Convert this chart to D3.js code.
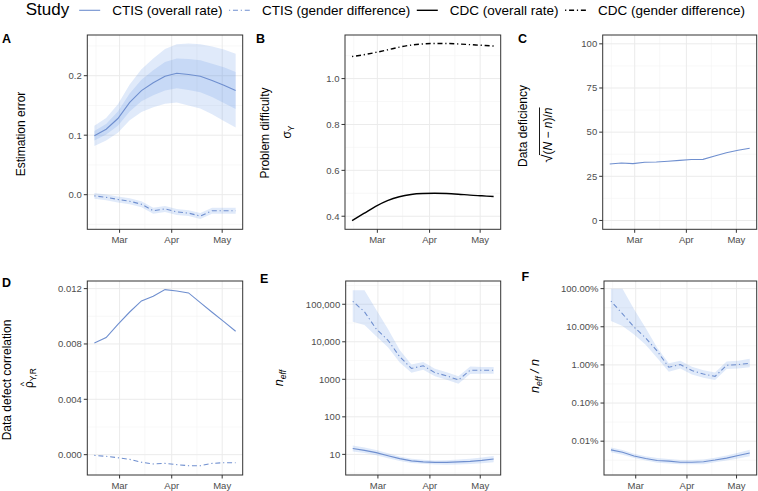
<!DOCTYPE html>
<html><head><meta charset="utf-8">
<script src="https://cdn.jsdelivr.net/npm/d3@7"></script>
<style>
body{margin:0;background:#fff}
svg{display:block}
text{font-family:"Liberation Sans",Arial,Helvetica,sans-serif}
</style>
</head><body>
<svg id="c" width="758" height="491"></svg>
<script>
// ---------------- DATA ----------------
const weeks = ["2021-02-14","2021-02-21","2021-02-28","2021-03-07","2021-03-14","2021-03-21","2021-03-28","2021-04-04","2021-04-11","2021-04-18","2021-04-25","2021-05-02","2021-05-09"];
const monthTicks = ["2021-03-01","2021-04-01","2021-05-01"];
const monthLabels = ["Mar","Apr","May"];
const monthMinor = ["2021-02-15","2021-03-16","2021-04-16"];

const legendLabels = ["CTIS (overall rate)","CTIS (gender difference)","CDC (overall rate)","CDC (gender difference)"];

// A: estimation error
const errOverall      = [0.099,0.110,0.128,0.155,0.175,0.188,0.199,0.204,0.202,0.199,0.192,0.184,0.175];
const errOverallOuter = [0.017,0.019,0.024,0.030,0.036,0.041,0.046,0.049,0.052,0.054,0.057,0.060,0.062];
const errOverallInner = [0.008,0.009,0.012,0.015,0.018,0.021,0.024,0.025,0.026,0.027,0.028,0.030,0.031];
const errGender       = [-0.002,-0.0045,-0.008,-0.011,-0.016,-0.027,-0.024,-0.029,-0.031,-0.036,-0.027,-0.027,-0.027];
const errGenderHalf   = [0.005,0.005,0.005,0.005,0.005,0.005,0.005,0.005,0.005,0.005,0.005,0.005,0.005];

// B: problem difficulty (CDC)
const sigmaOverall = [0.381,0.412,0.443,0.468,0.485,0.495,0.499,0.500,0.499,0.496,0.492,0.489,0.486];
const sigmaGender  = [1.096,1.104,1.114,1.125,1.137,1.146,1.151,1.153,1.153,1.151,1.148,1.145,1.142];

// C: data deficiency
const deficiency = [32.0,32.5,32.2,33.0,33.1,33.5,34.0,34.5,34.6,36.5,38.3,39.8,40.9];

// D: data defect correlation
const ddcOverall = [0.00807,0.00846,0.00942,0.01031,0.01111,0.01145,0.01193,0.01183,0.01169,0.01099,0.01029,0.00961,0.00892];
const ddcGender  = [-0.00005,-0.00012,-0.00022,-0.00034,-0.00055,-0.00067,-0.00063,-0.00072,-0.0008,-0.0008,-0.00063,-0.00058,-0.00058];

// E: effective sample size
const neffOverall   = [14.4,12.8,11.1,9.2,7.7,6.7,6.3,6.1,6.1,6.3,6.5,6.9,7.5];
const neffOverallLo = [12.0,10.8,9.4,7.9,6.7,5.9,5.6,5.4,5.3,5.4,5.5,5.8,6.2];
const neffOverallHi = [17.3,15.2,13.0,10.7,8.8,7.6,7.2,6.9,7.0,7.3,7.6,8.2,9.1];
const neffGender    = [120000,63000,22000,11000,4000,1950,2300,1500,1240,960,1750,1750,1750];
const neffGenderLo  = [34000,28000,14000,7100,2800,1500,1800,1200,980,760,1380,1410,1410];
const neffGenderHi  = [235000,235000,71000,22000,6000,2500,2900,1900,1550,1200,2190,2140,2140];

// F: n_eff / n
const ratioOverall   = [0.000059,0.000051,0.000041,0.000035,0.000031,0.000030,0.000028,0.000028,0.000029,0.000032,0.000036,0.000042,0.000049];
const ratioOverallLo = [0.000051,0.000044,0.000036,0.000031,0.000027,0.000026,0.000025,0.000025,0.000025,0.000028,0.000031,0.000035,0.000040];
const ratioOverallHi = [0.000068,0.000059,0.000047,0.000040,0.000036,0.000034,0.000032,0.000032,0.000033,0.000037,0.000042,0.000050,0.000060];
const ratioGender    = [0.472,0.219,0.098,0.051,0.023,0.0087,0.0102,0.0071,0.00575,0.0050,0.0098,0.0102,0.0110];
const ratioGenderLo  = [0.141,0.105,0.063,0.034,0.0151,0.0066,0.0081,0.0056,0.0046,0.0040,0.0078,0.0081,0.0087];
const ratioGenderHi  = [1.0,1.0,0.288,0.093,0.028,0.011,0.0129,0.0089,0.0072,0.0063,0.0123,0.0129,0.0145];

// y ticks
const ticksA = [0,0.1,0.2],             minorA = [-0.05,0.05,0.15,0.25];
const ticksB = [0.4,0.6,0.8,1.0],       minorB = [0.5,0.7,0.9,1.1];
const ticksC = [0,25,50,75,100],        minorC = [12.5,37.5,62.5,87.5];
const ticksD = [0,0.004,0.008,0.012],   minorD = [0.002,0.006,0.010];
const ticksE = [10,100,1000,10000,100000];
const ticksF = [0.0001,0.001,0.01,0.1,1];

// ---------------- STYLE ----------------
const BLUE = "#6F8FCF";
const FILL = "rgb(100,150,230)";
const FILL_OP = 0.2;
const DASHDOT = "1.2,2.8,5,2.8";

const svg = d3.select("#c");
const parse = d3.utcParse("%Y-%m-%d");
const dates = weeks.map(parse);
const DAY = 864e5;
const xDomain = [new Date(+dates[0] - 4.2*DAY), new Date(+dates[dates.length-1] + 4.2*DAY)];

function panel(id, frame, yType, yDomain, majors, minors, fmt) {
  const [x0,y0,x1,y1] = frame;
  const x = d3.scaleUtc().domain(xDomain).range([x0,x1]);
  const y = (yType === "log" ? d3.scaleLog() : d3.scaleLinear()).domain(yDomain).range([y1,y0]);
  const g = svg.append("g");
  g.append("clipPath").attr("id","clip"+id).append("rect")
    .attr("x",x0).attr("y",y0).attr("width",x1-x0).attr("height",y1-y0);
  const grid = g.append("g");
  grid.selectAll(".xm").data(monthMinor.map(parse)).join("line")
    .attr("x1",d=>x(d)).attr("x2",d=>x(d)).attr("y1",y0).attr("y2",y1)
    .attr("stroke","#F3F3F3").attr("stroke-width",0.6);
  grid.selectAll(".ym").data(minors.filter(v=>y(v)>=y0 && y(v)<=y1)).join("line")
    .attr("x1",x0).attr("x2",x1).attr("y1",d=>y(d)).attr("y2",d=>y(d))
    .attr("stroke","#F3F3F3").attr("stroke-width",0.6);
  grid.selectAll(".xM").data(monthTicks.map(parse)).join("line")
    .attr("x1",d=>x(d)).attr("x2",d=>x(d)).attr("y1",y0).attr("y2",y1)
    .attr("stroke","#EBEBEB").attr("stroke-width",1);
  grid.selectAll(".yM").data(majors).join("line")
    .attr("x1",x0).attr("x2",x1).attr("y1",d=>y(d)).attr("y2",d=>y(d))
    .attr("stroke","#EBEBEB").attr("stroke-width",1);
  const plot = g.append("g").attr("clip-path",`url(#clip${id})`);
  const finish = () => {
    g.append("rect").attr("x",x0).attr("y",y0).attr("width",x1-x0).attr("height",y1-y0)
      .attr("fill","none").attr("stroke","#333333").attr("stroke-width",1);
    const ya = g.append("g");
    ya.selectAll("line").data(majors).join("line")
      .attr("x1",x0-3.5).attr("x2",x0).attr("y1",d=>y(d)).attr("y2",d=>y(d))
      .attr("stroke","#333333").attr("stroke-width",1);
    ya.selectAll("text").data(majors).join("text")
      .attr("x",x0-5.5).attr("y",d=>y(d)).attr("dy","0.35em")
      .attr("text-anchor","end").attr("fill","#4D4D4D").style("font-size","9.5px")
      .text(fmt);
    const xa = g.append("g");
    const mt = monthTicks.map(parse);
    xa.selectAll("line").data(mt).join("line")
      .attr("x1",d=>x(d)).attr("x2",d=>x(d)).attr("y1",y1).attr("y2",y1+3.5)
      .attr("stroke","#333333").attr("stroke-width",1);
    xa.selectAll("text").data(mt).join("text")
      .attr("x",d=>x(d)).attr("y",y1+14).attr("text-anchor","middle")
      .attr("fill","#4D4D4D").style("font-size","9.5px")
      .text((d,i)=>monthLabels[i]);
  };
  return {x,y,plot,finish};
}

function ribbon(p, lo, hi, op) {
  const area = d3.area().x((d,i)=>p.x(dates[i])).y0((d,i)=>p.y(lo[i])).y1((d,i)=>p.y(hi[i]));
  p.plot.append("path").datum(dates).attr("d",area).attr("fill",FILL).attr("fill-opacity",op ?? FILL_OP);
}
function line(p, vals, color, width, dash, curve) {
  const ln = d3.line().x((d,i)=>p.x(dates[i])).y((d)=>p.y(d));
  if (curve) ln.curve(curve);
  p.plot.append("path").datum(vals).attr("d",ln).attr("fill","none")
    .attr("stroke",color).attr("stroke-width",width)
    .attr("stroke-dasharray",dash || null);
}

const fmt1 = d3.format(".1f");
const fmt3 = d3.format(".3f");
const fmtC = d3.format("d");
const fmtE = v => v >= 10000 ? d3.format(",")(v) : String(v);
const fmtF = d3.format(".2%");

// A
const pA = panel("A",[87.3,35,242.7,229.3],"lin",[-0.0582,0.2684],ticksA,minorA,fmt1);
ribbon(pA, errOverall.map((v,i)=>v-errOverallOuter[i]), errOverall.map((v,i)=>v+errOverallOuter[i]));
ribbon(pA, errOverall.map((v,i)=>v-errOverallInner[i]), errOverall.map((v,i)=>v+errOverallInner[i]));
ribbon(pA, errGender.map((v,i)=>v-errGenderHalf[i]), errGender.map((v,i)=>v+errGenderHalf[i]));
line(pA, errOverall, BLUE, 1.1);
line(pA, errGender, BLUE, 1.1, DASHDOT);
pA.finish();

// B
const pB = panel("B",[345,35,500.7,229.3],"lin",[0.343,1.19],ticksB,minorB,fmt1);
line(pB, sigmaOverall, "#000", 1.4, null, d3.curveMonotoneX);
line(pB, sigmaGender, "#000", 1.4, DASHDOT, d3.curveMonotoneX);
pB.finish();

// C
const pC = panel("C",[602.7,35,756.7,229.3],"lin",[-5,105],ticksC,minorC,fmtC);
line(pC, deficiency, BLUE, 1.1);
pC.finish();

// D
const pD = panel("D",[87.3,281,242.7,475],"lin",[-0.00147,0.01255],ticksD,minorD,fmt3);
line(pD, ddcOverall, BLUE, 1.1);
line(pD, ddcGender, BLUE, 1.1, DASHDOT);
pD.finish();

// E
const minorLog = d3.range(-6,7).map(k=>Math.pow(10,k+0.5));
const pE = panel("E",[345.7,281,500.7,475],"log",[Math.pow(10,0.45),Math.pow(10,5.62)],ticksE,minorLog,fmtE);
ribbon(pE, neffOverallLo, neffOverallHi);
ribbon(pE, neffGenderLo, neffGenderHi);
line(pE, neffOverall, BLUE, 1.1);
line(pE, neffGender, BLUE, 1.1, DASHDOT);
pE.finish();

// F
const pF = panel("F",[604,281,756.7,475],"log",[Math.pow(10,-4.887),Math.pow(10,0.2)],ticksF,minorLog,fmtF);
ribbon(pF, ratioOverallLo, ratioOverallHi);
ribbon(pF, ratioGenderLo, ratioGenderHi);
line(pF, ratioOverall, BLUE, 1.1);
line(pF, ratioGender, BLUE, 1.1, DASHDOT);
pF.finish();

// ---------------- PANEL LETTERS ----------------
const letters = [["A",2,43],["B",256,43],["C",518,43],["D",2,287],["E",260,283],["F",521.5,281]];
svg.selectAll(".lt").data(letters).join("text")
  .attr("x",d=>d[1]).attr("y",d=>d[2]).style("font-size","12.5px").style("font-weight","bold")
  .attr("fill","#000").text(d=>d[0]);

// ---------------- AXIS TITLES ----------------
const TFS = "12px";
function rot(cx, cy) { return svg.append("g").attr("transform",`translate(${cx},${cy}) rotate(-90)`); }
function simpleTitle(cx, cy, txt) {
  rot(cx,cy).append("text").attr("text-anchor","middle").style("font-size",TFS).attr("fill","#000").text(txt);
}
simpleTitle(24.5, 134, "Estimation error");
simpleTitle(268.5, 133, "Problem difficulty");
simpleTitle(526.5, 126, "Data deficiency");
simpleTitle(11, 380, "Data defect correlation");

// sigma_Y
{
  const t = rot(291, 132).append("text").attr("text-anchor","middle").style("font-size",TFS).attr("fill","#000");
  t.append("tspan").text("σ");
  t.append("tspan").attr("dy",3).style("font-size","8.5px").text("Y");
}
// sqrt((N-n)/n)
{
  const g = rot(552, 135);
  const rad = g.append("text").style("font-size","14.5px").attr("fill","#000").text("√");
  const body = g.append("text").style("font-size",TFS).attr("fill","#000");
  body.append("tspan").text("(");
  body.append("tspan").style("font-style","italic").text("N");
  body.append("tspan").text(" − ");
  body.append("tspan").style("font-style","italic").text("n");
  body.append("tspan").text(")/");
  body.append("tspan").style("font-style","italic").text("n");
  const wr = rad.node().getComputedTextLength();
  const wb = body.node().getComputedTextLength();
  const start = -(wr + wb)/2;
  rad.attr("x", start);
  body.attr("x", start + wr);
  g.append("line").attr("x1", start + wr - 0.5).attr("x2", start + wr + wb)
    .attr("y1",-12.5).attr("y2",-12.5).attr("stroke","#000").attr("stroke-width",0.9);
}
// rho-hat_{Y,R}
{
  const g = rot(33, 378);
  const t = g.append("text").style("font-size",TFS).attr("fill","#000");
  t.append("tspan").text("ρ");
  t.append("tspan").attr("dy",3).style("font-size","8.5px").text("Y,R");
  const w = t.node().getBBox().width;
  const rw = t.node().getSubStringLength(0,1);
  t.attr("x",-w/2);
  g.append("text").attr("x",-w/2 + rw/2 + 0.5).attr("y",-6.5).attr("text-anchor","middle")
    .style("font-size","9px").attr("fill","#000").text("^");
}
// n_eff
{
  const t = rot(283, 378).append("text").attr("text-anchor","middle").style("font-size","12.5px").attr("fill","#000");
  t.append("tspan").style("font-style","italic").text("n");
  t.append("tspan").attr("dy",3).style("font-size","8.5px").style("font-style","italic").text("eff");
}
// n_eff / n
{
  const t = rot(539, 376).append("text").attr("text-anchor","middle").style("font-size","12.5px").attr("fill","#000");
  t.append("tspan").style("font-style","italic").text("n");
  t.append("tspan").attr("dy",3).style("font-size","8.5px").style("font-style","italic").text("eff");
  t.append("tspan").attr("dy",-3).style("font-style","italic").text(" / ");
  t.append("tspan").style("font-style","italic").text("n");
}

// ---------------- LEGEND ----------------
{
  const leg = svg.append("g");
  const ly = 14.5, ky = 10.3;
  let lx = 25.7;
  const st = leg.append("text").attr("x",lx).attr("y",ly).style("font-size","17px").attr("fill","#000").text("Study");
  lx += st.node().getComputedTextLength() + 10;
  const keyStyles = [[BLUE,null,1.1],[BLUE,DASHDOT,1.1],["#000",null,1.4],["#000",DASHDOT,1.4]];
  legendLabels.forEach((lab,i)=>{
    const [c,dash,w] = keyStyles[i];
    leg.append("line").attr("x1",lx).attr("x2",lx+21).attr("y1",ky).attr("y2",ky)
      .attr("stroke",c).attr("stroke-width",w).attr("stroke-dasharray",dash);
    lx += 21 + 12;
    const t = leg.append("text").attr("x",lx).attr("y",ly).style("font-size","13.5px").attr("fill","#000").text(lab);
    lx += t.node().getComputedTextLength() + 6.5;
  });
}
</script>
</body></html>
